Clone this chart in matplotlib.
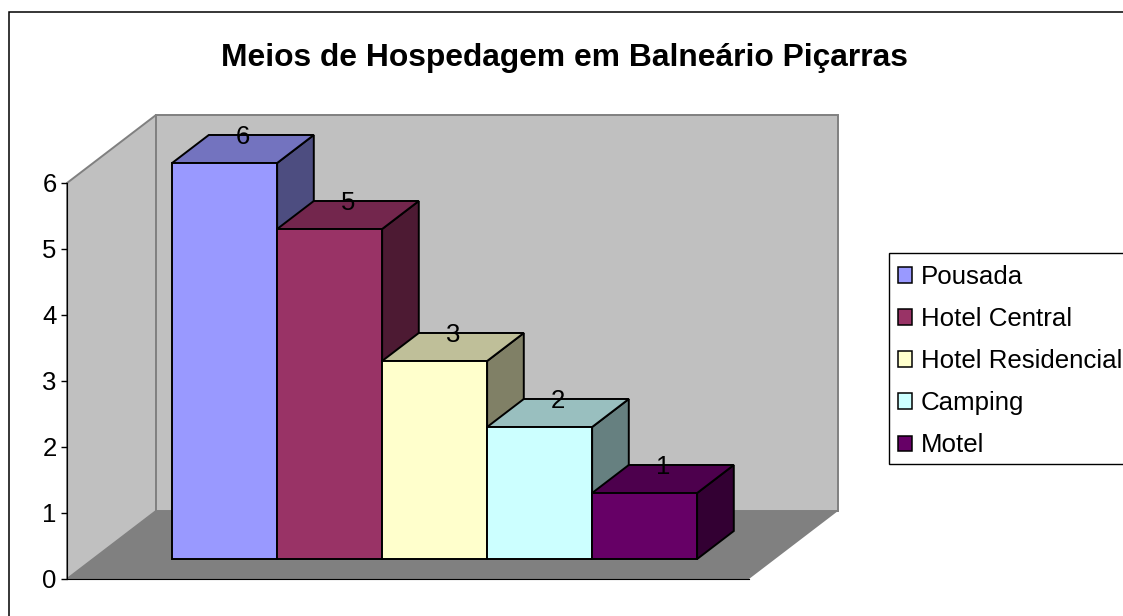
import matplotlib
matplotlib.use('Agg')
import matplotlib.pyplot as plt
from matplotlib.patches import Polygon, Patch, Rectangle

plt.rcParams['font.family'] = ['Liberation Sans', 'DejaVu Sans']

# data
categories = ['Pousada', 'Hotel Central', 'Hotel Residencial', 'Camping', 'Motel']
values = [6, 5, 3, 2, 1]
front_colors = ['#9999FF', '#993366', '#FFFFCC', '#CCFFFF', '#660066']
top_colors = ['#7373BF', '#73264D', '#BFBF99', '#99BFBF', '#4D004D']
side_colors = ['#4D4D80', '#4D1A33', '#808066', '#668080', '#330033']
yticks = [0, 1, 2, 3, 4, 5, 6]
title = 'Meios de Hospedagem em Balneário Piçarras'

W, H = 1123, 616
PX_X, PX_Y = 105.0, 66.0     # pixels per category / per value
X0, Y0 = 67, 579             # pixel of the chart origin
DX, DY = 89 / PX_X, 68 / PX_Y  # shift of the back of the box
FLOOR_W = 682 / PX_X
BAR_D0, BAR_D1 = 0.294, 0.706
BAR_X0 = 0.752
LW = 1.4


def pr(x, y, d):
    return (x + d * DX, y + d * DY)


fig = plt.figure(figsize=(W / 100, H / 100), dpi=100)
ax = fig.add_axes([0, 0, 1, 1])
ax.set_xlim(-X0 / PX_X, (W - X0) / PX_X)
ax.set_ylim(-(H - Y0) / PX_Y, Y0 / PX_Y)
ax.patch.set_alpha(0)

# outer frame, runs off the right and bottom of the picture
fig.add_artist(Rectangle((8.5 / W, -0.1), 1.2, 1.1 - 11.5 / H, transform=fig.transFigure,
                         fc='white', ec='black', lw=1.1, zorder=-5))

top = max(yticks)
wall = '#C0C0C0'
edge = '#808080'
# walls and floor
ax.add_patch(Polygon([pr(0, 0, 0), pr(0, 0, 1), pr(0, top, 1), pr(0, top, 0)], fc=wall, ec=edge, lw=1.4, zorder=1))
ax.add_patch(Polygon([pr(0, 0, 1), pr(FLOOR_W, 0, 1), pr(FLOOR_W, top, 1), pr(0, top, 1)], fc=wall, ec=edge, lw=1.4, zorder=1))
ax.add_patch(Polygon([pr(0, 0, 0), pr(FLOOR_W, 0, 0), pr(FLOOR_W, 0, 1), pr(0, 0, 1)], fc='#808080', ec='none', zorder=2))

# bars
for i, v in enumerate(values):
    x0 = BAR_X0 + i
    x1 = x0 + 1
    z = 3 + i
    ax.add_patch(Polygon([pr(x1, 0, BAR_D0), pr(x1, 0, BAR_D1), pr(x1, v, BAR_D1), pr(x1, v, BAR_D0)],
                         fc=side_colors[i], ec='black', lw=LW, zorder=z))
    ax.add_patch(Polygon([pr(x0, v, BAR_D0), pr(x1, v, BAR_D0), pr(x1, v, BAR_D1), pr(x0, v, BAR_D1)],
                         fc=top_colors[i], ec='black', lw=LW, zorder=z))
    ax.add_patch(Polygon([pr(x0, 0, BAR_D0), pr(x1, 0, BAR_D0), pr(x1, v, BAR_D0), pr(x0, v, BAR_D0)],
                         fc=front_colors[i], ec='black', lw=LW, zorder=z))
    lx = pr(x0 + 0.5, v, 0.5)[0]
    ly = pr(x0, v, BAR_D1)[1]
    ax.text(lx, ly, str(v), ha='center', va='center_baseline', fontsize=18.5, color='black', zorder=20)

# axes lines
for s in ['top', 'right']:
    ax.spines[s].set_visible(False)
ax.spines['left'].set_position(('data', 0))
ax.spines['left'].set_bounds(0, top)
ax.spines['bottom'].set_position(('data', 0))
ax.spines['bottom'].set_bounds(0, FLOOR_W)
ax.spines['left'].set_zorder(10)
ax.spines['bottom'].set_zorder(10)
ax.set_yticks(yticks)
ax.set_xticks([])
ax.tick_params(axis='y', length=4.5, width=1, labelsize=18.5, pad=3)

fig.text(564 / W, 1 - 58 / H, title, ha='center', va='center', fontsize=22.9, fontweight='bold')

# legend box drawn apart so its rows can sit a little lower
fig.add_artist(Rectangle((888.5 / W, 1 - 463.5 / H), 1.2, 210 / H, transform=fig.transFigure,
                         fc='white', ec='black', lw=1.0, zorder=-4))
handles = [Patch(fc=c, ec='black', lw=1.1) for c in front_colors]
leg = fig.legend(handles, categories, loc='upper left', bbox_to_anchor=(888 / W, 1 - 255 / H),
                 fontsize=18.6, frameon=False,
                 borderaxespad=0, handlelength=0.54, handleheight=0.54, handletextpad=0.35,
                 labelspacing=0.7, borderpad=0.39)

fig.savefig('out.png', dpi=100)
